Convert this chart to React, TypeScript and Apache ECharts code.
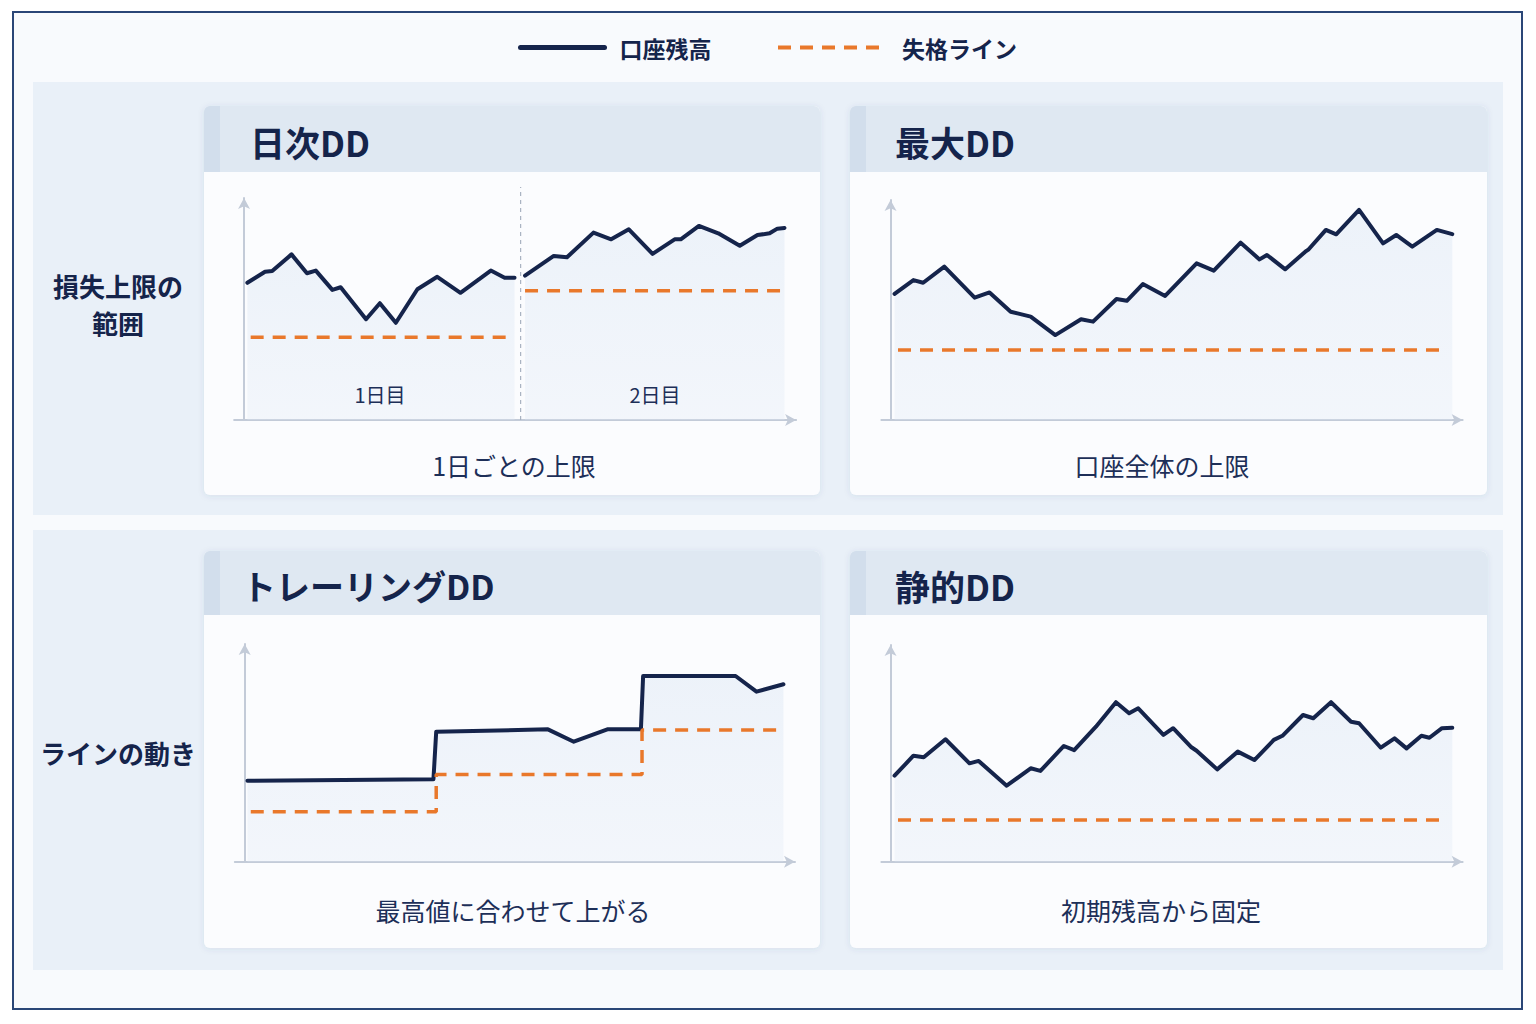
import React, { useEffect, useRef } from "react";
import * as echarts from "echarts";

// ---- Data (x: time position 0-100, y: balance level 0-100) ----
const legendNames = ["口座残高", "失格ライン"];
const panelTitles = ["日次DD", "最大DD", "トレーリングDD", "静的DD"];
const panelCaptions = ["1日ごとの上限", "口座全体の上限", "最高値に合わせて上がる", "初期残高から固定"];
const rowLabels = ["損失上限の\n範囲", "ラインの動き"];
const dayLabels = ["1日目", "2日目"];

// Daily DD
const dailyDay1Balance = [
  [0.6, 61.8], [3.8, 66.8], [5.1, 67.1], [8.6, 74.6], [11.4, 66.1], [13.0, 67.3],
  [16.0, 58.6], [17.5, 59.8], [22.1, 45.4], [24.6, 52.6], [27.5, 43.8], [31.4, 58.9],
  [35.0, 64.5], [39.2, 57.3], [44.7, 67.3], [47.2, 64.1], [49.0, 64.1],
];
const dailyDay2Balance = [
  [50.9, 65.0], [56.1, 73.9], [58.5, 73.3], [63.3, 84.4], [66.5, 81.4], [69.7, 85.9],
  [74.0, 74.8], [78.0, 81.4], [79.1, 81.4], [82.4, 87.4], [85.9, 84.1], [89.8, 78.5],
  [93.0, 83.3], [95.2, 84.1], [96.6, 86.2], [97.9, 86.5],
];
const dailyDay1Limit = [[1.2, 37.3], [48.9, 37.3]];
const dailyDay2Limit = [[50.9, 58.2], [97.9, 58.2]];
const dailyDivider = [[50.1, 0], [50.1, 105]];

// Max DD
const maxBalance = [
  [0.7, 57.3], [4.0, 63.6], [5.7, 62.4], [9.4, 69.7], [14.7, 55.6], [17.3, 58.0],
  [21.0, 49.2], [24.5, 47.0], [28.8, 38.6], [33.3, 45.8], [35.4, 44.7], [39.5, 55.0],
  [41.3, 54.2], [44.1, 61.8], [48.0, 56.4], [53.5, 71.2], [56.5, 67.9], [61.2, 80.6],
  [64.5, 73.0], [65.8, 75.0], [69.0, 68.5], [72.5, 76.5], [73.1, 77.6], [76.1, 86.4],
  [77.9, 84.4], [81.9, 95.5], [86.1, 80.3], [88.4, 84.1], [91.2, 78.8], [95.5, 86.4],
  [98.2, 84.5],
];
const maxLimit = [[1.3, 31.8], [96.4, 31.8]];

// Trailing DD
const trailingBalance = [
  [0.5, 37.2], [34.3, 37.9], [34.8, 59.7], [55.1, 60.8], [59.8, 55.1], [65.9, 60.8],
  [72.0, 60.8], [72.4, 85.3], [89.2, 85.3], [93.0, 78.1], [97.9, 81.5],
];
const trailingLimit = [
  [1.1, 23.0], [34.8, 23.0], [34.8, 40.1], [72.2, 40.1], [72.2, 60.5], [98.1, 60.5],
];

// Static DD
const staticBalance = [
  [0.7, 39.7], [4.0, 48.9], [5.8, 48.2], [9.6, 56.5], [13.8, 45.4], [15.4, 46.5],
  [20.3, 35.1], [24.5, 43.1], [26.2, 41.9], [30.3, 53.4], [32.1, 51.5], [35.9, 62.3],
  [39.4, 73.6], [41.7, 68.5], [43.3, 70.8], [47.7, 58.5], [49.4, 61.6], [52.6, 52.8],
  [53.5, 51.2], [57.1, 42.6], [60.7, 50.8], [63.6, 46.9], [67.0, 56.2], [68.5, 58.1],
  [72.1, 67.7], [73.9, 66.2], [77.0, 73.6], [80.5, 64.6], [81.9, 63.9], [85.7, 52.6],
  [88.1, 56.9], [90.2, 52.3], [92.8, 58.1], [94.2, 57.2], [96.4, 61.6], [98.2, 61.8],
];
const staticLimit = [[1.3, 19.3], [96.0, 19.3]];

const FONT = '"Noto Sans CJK JP", "Noto Sans", sans-serif';
const NAVY = "#15244b";
const ORANGE = "#e9782b";
const AXIS = "#c3cbd8";

export default function App() {
  const ref = useRef<HTMLDivElement>(null);

  useEffect(() => {
    if (!ref.current) return;
    const chart = echarts.init(ref.current, null, { renderer: "svg" });

    const grids = [
      { left: 234.1, top: 198, width: 562, height: 222 },
      { left: 881.4, top: 200, width: 581.2, height: 220 },
      { left: 234.8, top: 644, width: 560.2, height: 217.7 },
      { left: 881.4, top: 645, width: 581.2, height: 216.7 },
    ].map((g) => ({ ...g, outerBoundsMode: "none", containLabel: false }));
    const xMins = [-1.8, -1.6, -1.8, -1.6];

    const xAxes = grids.map((_, i) => ({
      type: "value",
      gridIndex: i,
      min: xMins[i],
      max: 100,
      axisLine: {
        show: true,
        onZero: false,
        symbol: ["none", "arrow"],
        symbolSize: [9, 11],
        lineStyle: { color: AXIS, width: 2 },
      },
      axisTick: { show: false },
      axisLabel: { show: false },
      splitLine: { show: false },
    }));
    const yAxes = grids.map((_, i) => ({
      type: "value",
      gridIndex: i,
      min: 0,
      max: 100,
      axisLine: {
        show: true,
        onZero: true,
        symbol: ["none", "arrow"],
        symbolSize: [9, 11],
        lineStyle: { color: AXIS, width: 2 },
      },
      axisTick: { show: false },
      axisLabel: { show: false },
      splitLine: { show: false },
    }));

    const area = {
      color: new echarts.graphic.LinearGradient(0, 0, 0, 1, [
        { offset: 0, color: "rgba(210,224,241,0.5)" },
        { offset: 1, color: "rgba(224,233,245,0.45)" },
      ]),
    };
    const balance = (data: number[][], idx: number) => ({
      type: "line",
      name: legendNames[0],
      xAxisIndex: idx,
      yAxisIndex: idx,
      data,
      symbol: "none",
      lineStyle: { color: NAVY, width: 4, join: "round", cap: "round" },
      itemStyle: { color: NAVY },
      areaStyle: area,
      z: 3,
    });
    const limit = (data: number[][], idx: number) => ({
      type: "line",
      name: legendNames[1],
      xAxisIndex: idx,
      yAxisIndex: idx,
      data,
      symbol: "none",
      lineStyle: { color: ORANGE, width: 3.5, type: [13, 9] },
      itemStyle: { color: ORANGE },
      z: 4,
    });

    const series: any[] = [
      balance(dailyDay1Balance, 0),
      limit(dailyDay1Limit, 0),
      balance(dailyDay2Balance, 0),
      limit(dailyDay2Limit, 0),
      {
        type: "line",
        name: "divider",
        xAxisIndex: 0,
        yAxisIndex: 0,
        data: dailyDivider,
        symbol: "none",
        clip: false,
        lineStyle: { color: "#a9b3c2", width: 1.2, type: [4, 4] },
        z: 2,
      },
      balance(maxBalance, 1),
      limit(maxLimit, 1),
      balance(trailingBalance, 2),
      limit(trailingLimit, 2),
      balance(staticBalance, 3),
      limit(staticLimit, 3),
    ];

    const panels = [
      { x: 204, y: 106, w: 616, h: 389, hh: 66, titleX: 250, titleY: 141, capX: 514, capY: 465, tSize: 35 },
      { x: 850, y: 106, w: 637, h: 389, hh: 66, titleX: 895, titleY: 141, capX: 1162, capY: 465, tSize: 35 },
      { x: 204, y: 551, w: 616, h: 397, hh: 64, titleX: 242, titleY: 585, capX: 513, capY: 910, tSize: 34 },
      { x: 850, y: 551, w: 637, h: 397, hh: 64, titleX: 895, titleY: 585, capX: 1161, capY: 910, tSize: 35 },
    ];

    const graphics: any[] = [
      {
        type: "rect",
        z: -10,
        shape: { x: 13, y: 12, width: 1509, height: 997 },
        style: { fill: "#f8fafd", stroke: "#2a4677", lineWidth: 2 },
      },
      { type: "rect", z: -9, shape: { x: 33, y: 82, width: 1470, height: 433 }, style: { fill: "#e9f0f8" } },
      { type: "rect", z: -9, shape: { x: 33, y: 530, width: 1470, height: 440 }, style: { fill: "#e9f0f8" } },
    ];
    panels.forEach((p, i) => {
      graphics.push(
        {
          type: "rect",
          z: -8,
          shape: { x: p.x, y: p.y, width: p.w, height: p.h, r: 6 },
          style: { fill: "#fbfcfe", shadowBlur: 6, shadowColor: "rgba(40,70,120,0.10)", shadowOffsetY: 1 },
        },
        {
          type: "rect",
          z: -7,
          shape: { x: p.x, y: p.y, width: p.w, height: p.hh, r: [6, 6, 0, 0] },
          style: { fill: "#dfe8f2" },
        },
        {
          type: "rect",
          z: -6,
          shape: { x: p.x, y: p.y, width: 16, height: p.hh, r: [6, 0, 0, 0] },
          style: { fill: "#d2deec" },
        },
        {
          type: "text",
          z: 10,
          x: p.titleX,
          y: p.titleY,
          style: {
            text: panelTitles[i],
            fill: NAVY,
            font: `bold ${p.tSize}px ${FONT}`,
            textAlign: "left",
            textVerticalAlign: "middle",
          },
        },
        {
          type: "text",
          z: 10,
          x: p.capX,
          y: p.capY,
          style: {
            text: panelCaptions[i],
            fill: "#1d2f58",
            font: `25px ${FONT}`,
            textAlign: "center",
            textVerticalAlign: "middle",
          },
        }
      );
    });
    graphics.push(
      {
        type: "text",
        z: 10,
        x: 380,
        y: 394,
        style: { text: dayLabels[0], fill: "#1d2f58", font: `20px ${FONT}`, textAlign: "center", textVerticalAlign: "middle" },
      },
      {
        type: "text",
        z: 10,
        x: 655,
        y: 394,
        style: { text: dayLabels[1], fill: "#1d2f58", font: `20px ${FONT}`, textAlign: "center", textVerticalAlign: "middle" },
      },
      {
        type: "text",
        z: 10,
        x: 118,
        y: 304,
        style: {
          text: rowLabels[0],
          fill: NAVY,
          font: `bold 26px ${FONT}`,
          lineHeight: 37,
          textAlign: "center",
          textVerticalAlign: "middle",
        },
      },
      {
        type: "text",
        z: 10,
        x: 118,
        y: 752,
        style: { text: rowLabels[1], fill: NAVY, font: `bold 26px ${FONT}`, textAlign: "center", textVerticalAlign: "middle" },
      }
    );

    const legendText = { fontSize: 23, fontWeight: "bold", color: NAVY, fontFamily: FONT };
    const legendBase = {
      top: 31,
      itemHeight: 14,
      itemStyle: { opacity: 0 },
      selectedMode: false,
    };

    chart.setOption({
      animation: false,
      backgroundColor: "#ffffff",
      textStyle: { fontFamily: FONT },
      legend: [
        {
          ...legendBase,
          data: [legendNames[0]],
          left: 513,
          itemWidth: 84,
          lineStyle: { width: 5 },
          textStyle: { ...legendText, padding: [0, 0, 0, 10] },
        },
        {
          ...legendBase,
          data: [legendNames[1]],
          left: 771,
          itemWidth: 104,
          lineStyle: { width: 4 },
          textStyle: { ...legendText, padding: [0, 0, 0, 15] },
        },
      ],
      grid: grids,
      xAxis: xAxes,
      yAxis: yAxes,
      series,
      graphic: graphics,
    });

    return () => chart.dispose();
  }, []);

  return (
    <div
      ref={ref}
      style={{ position: "fixed", left: 0, top: 0, width: 1536, height: 1024 }}
    />
  );
}
